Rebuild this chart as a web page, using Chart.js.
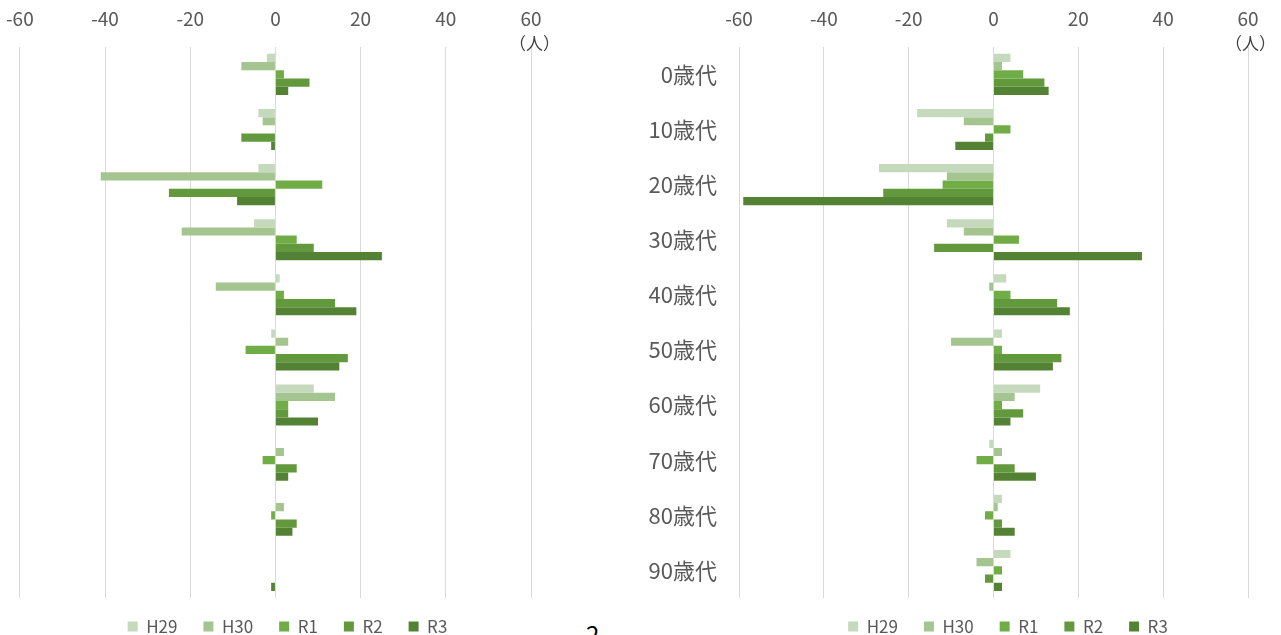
<!DOCTYPE html>
<html lang="ja">
<head>
<meta charset="utf-8">
<title>年代別 増減</title>
<script src="https://cdn.jsdelivr.net/npm/chart.js@4.4.1/dist/chart.umd.min.js"></script>
<style>
  html, body { margin: 0; padding: 0; background: #fff; }
  body { width: 1281px; height: 635px; overflow: hidden; position: relative; font-family: "Noto Sans CJK JP", "Noto Sans", sans-serif; }
  .box { position: absolute; top: -10px; }
  .unit { position: absolute; top: 33px; font-size: 17px; color: #404040; line-height: 20px; }
  .page { position: absolute; left: 586px; top: 622px; font-size: 24px; line-height: 24px; color: #000; }
</style>
</head>
<body>
<div class="box" style="left:-11px"><canvas id="left" width="575" height="661"></canvas></div>
<div class="box" style="left:600px"><canvas id="right" width="681" height="661"></canvas></div>
<div class="unit" style="left:509px">（人）</div>
<div class="unit" style="left:1225px">（人）</div>
<div class="page">2</div>
<script>
// 年代
const categories = ['0歳代', '10歳代', '20歳代', '30歳代', '40歳代', '50歳代', '60歳代', '70歳代', '80歳代', '90歳代'];
const seriesNames = ['H29', 'H30', 'R1', 'R2', 'R3'];
const seriesColors = ['#c5d9bc', '#a4c490', '#70ad47', '#62993d', '#548235'];
const tickValues = [-60, -40, -20, 0, 20, 40, 60];

// 左のグラフ
const leftH29 = [-2, -4, -4, -5, 1, -1, 9, 0, 0, 0];
const leftH30 = [-8, -3, -41, -22, -14, 3, 14, 2, 2, 0];
const leftR1  = [2, 0, 11, 5, 2, -7, 3, -3, -1, 0];
const leftR2  = [8, -8, -25, 9, 14, 17, 3, 5, 5, 0];
const leftR3  = [3, -1, -9, 25, 19, 15, 10, 3, 4, -1];

// 右のグラフ
const rightH29 = [4, -18, -27, -11, 3, 2, 11, -1, 2, 4];
const rightH30 = [2, -7, -11, -7, -1, -10, 5, 2, 1, -4];
const rightR1  = [7, 4, -12, 6, 4, 2, 2, -4, -2, 2];
const rightR2  = [12, -2, -26, -14, 15, 16, 7, 5, 2, -2];
const rightR3  = [13, -9, -59, 35, 18, 14, 4, 10, 5, 2];

const FONT = '"Noto Sans CJK JP", "Noto Sans", sans-serif';
const GRAY = '#595959';

// 凡例の位置をずらす
const legendShift = {
  id: 'legendShift',
  afterLayout(chart, args, opts) {
    const lg = chart.legend;
    if (!lg) return;
    lg.left += opts.dx || 0;
    lg.right += opts.dx || 0;
    lg.top += opts.dy || 0;
    lg.bottom += opts.dy || 0;
  }
};

function makeChart(id, values, showLabels, pad, yWidth, dx) {
  const ctx = document.getElementById(id).getContext('2d');
  return new Chart(ctx, {
    type: 'bar',
    data: {
      labels: categories,
      datasets: seriesNames.map((name, i) => ({
        label: name,
        data: values[i],
        backgroundColor: seriesColors[i],
        borderWidth: 0,
        categoryPercentage: 0.745,
        barPercentage: 1.0
      }))
    },
    options: {
      indexAxis: 'y',
      responsive: false,
      animation: false,
      devicePixelRatio: 1,
      layout: { padding: pad },
      scales: {
        x: {
          position: 'top',
          min: -60,
          max: 60,
          afterBuildTicks: (scale) => { scale.ticks = tickValues.map(v => ({ value: v })); },
          ticks: { color: GRAY, font: { family: FONT, size: 19 }, padding: 17 },
          grid: { color: '#d9d9d9', lineWidth: 1, drawTicks: false },
          border: { display: false }
        },
        y: {
          display: showLabels,
          afterFit: (scale) => { if (yWidth) scale.width = yWidth; },
          ticks: { color: GRAY, font: { family: FONT, size: 22 }, padding: 22 },
          grid: { display: false, drawTicks: false },
          border: { display: false }
        }
      },
      plugins: {
        legend: {
          position: 'bottom',
          labels: {
            boxWidth: 10,
            boxHeight: 10,
            padding: 26,
            color: GRAY,
            font: { family: FONT, size: 17 }
          }
        },
        legendShift: { dx: dx, dy: -6 },
        tooltip: { enabled: false }
      }
    },
    plugins: [legendShift]
  });
}

makeChart('left', [leftH29, leftH30, leftR1, leftR2, leftR3], false,
  { left: 19, right: 33, top: 0, bottom: 0 }, 0, 18);
makeChart('right', [rightH29, rightH30, rightR1, rightR2, rightR3], true,
  { left: 0, right: 33, top: 0, bottom: 0 }, 139, 84);
</script>
</body>
</html>
